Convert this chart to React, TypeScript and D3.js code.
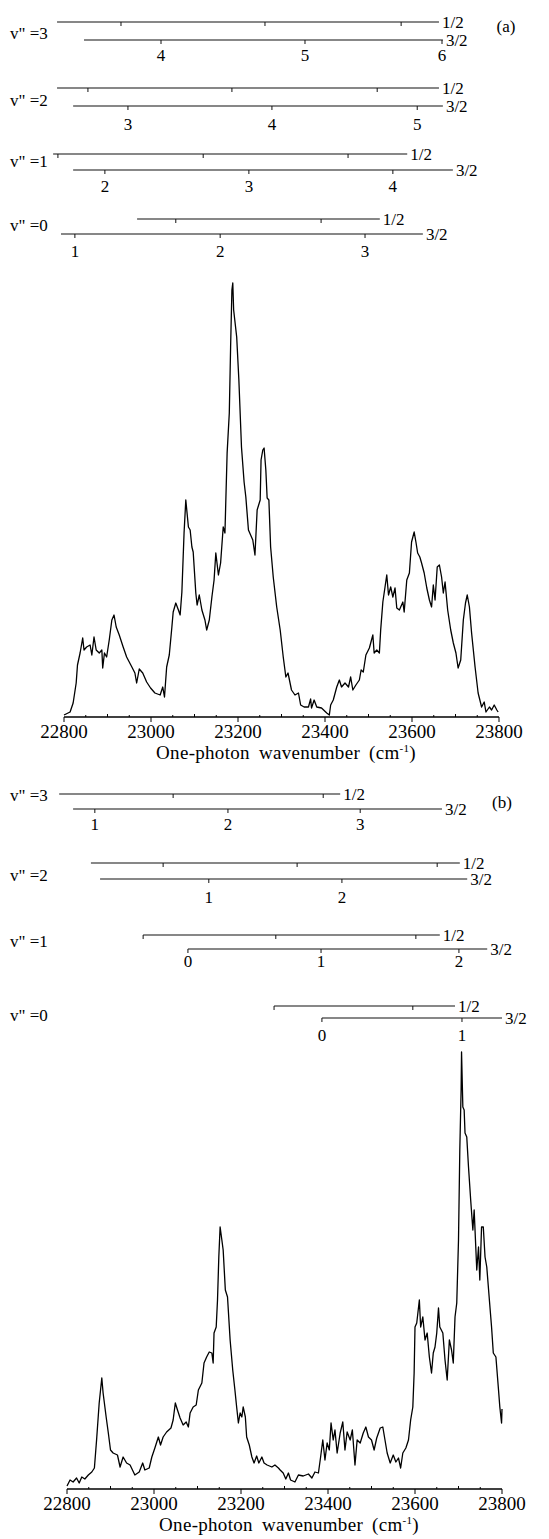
import React, { useEffect, useRef } from "react";
import * as d3 from "d3";

// spectrum (a): [one-photon wavenumber cm-1, signal a.u.]
const spectrumA: [number, number][] = [
  [22800, 2], [22814, 5], [22821, 14], [22828, 34], [22831, 52], [22837, 64], [22843, 79], [22846, 67],
  [22852, 70], [22860, 72], [22864, 62], [22869, 80], [22874, 67], [22881, 64], [22887, 67], [22889, 49],
  [22893, 64], [22898, 60], [22904, 77], [22910, 97], [22915, 102], [22920, 90], [22927, 82], [22936, 70],
  [22944, 60], [22956, 50], [22963, 44], [22967, 34], [22973, 48], [22981, 44], [22990, 35], [22999, 29],
  [23009, 24], [23021, 22], [23027, 30], [23031, 20], [23036, 50], [23042, 62], [23048, 90], [23051, 105],
  [23057, 114], [23063, 107], [23067, 102], [23071, 125], [23076, 184], [23080, 217], [23086, 190], [23090, 187],
  [23094, 170], [23097, 165], [23103, 124], [23106, 112], [23111, 122], [23117, 107], [23124, 97], [23128, 87],
  [23134, 97], [23140, 120], [23145, 137], [23149, 164], [23155, 142], [23160, 154], [23166, 190], [23170, 184],
  [23175, 264], [23180, 304], [23183, 370], [23186, 427], [23188, 434], [23190, 407], [23197, 380], [23202, 337],
  [23208, 270], [23214, 235], [23218, 220], [23224, 187], [23229, 182], [23234, 177], [23239, 162], [23244, 207],
  [23251, 217], [23253, 257], [23257, 267], [23260, 269], [23264, 247], [23267, 219], [23271, 217], [23275, 170],
  [23281, 140], [23289, 110], [23297, 87], [23304, 60], [23310, 40], [23315, 44], [23323, 27], [23331, 22],
  [23339, 24], [23344, 12], [23352, 10], [23362, 10], [23367, 18], [23369, 9], [23375, 17], [23381, 10],
  [23392, 9], [23404, 4], [23410, 2], [23413, 12], [23419, 17], [23427, 30], [23433, 37], [23438, 30],
  [23446, 34], [23454, 30], [23459, 40], [23464, 27], [23471, 32], [23479, 37], [23483, 47], [23488, 45],
  [23494, 62], [23502, 69], [23510, 82], [23513, 64], [23519, 67], [23525, 64], [23528, 87], [23533, 115],
  [23538, 130], [23542, 142], [23546, 122], [23551, 130], [23556, 120], [23561, 129], [23565, 109], [23571, 107],
  [23579, 115], [23582, 105], [23588, 137], [23594, 144], [23599, 175], [23605, 185], [23609, 175], [23613, 164],
  [23618, 160], [23622, 154], [23628, 144], [23634, 129], [23640, 117], [23645, 110], [23649, 132], [23653, 117],
  [23658, 150], [23663, 152], [23668, 140], [23672, 124], [23676, 135], [23682, 107], [23689, 87], [23695, 74],
  [23701, 64], [23706, 49], [23712, 57], [23718, 97], [23723, 114], [23727, 122], [23732, 110], [23737, 84],
  [23745, 50], [23752, 24], [23760, 10], [23766, 15], [23770, 5], [23778, 10], [23783, 7], [23789, 12],
  [23795, 7], [23798, 5],
];

// spectrum (b)
const spectrumB: [number, number][] = [
  [22800, 3], [22807, 9], [22814, 7], [22822, 11], [22828, 6], [22834, 12], [22841, 10], [22849, 14],
  [22857, 17], [22863, 21], [22868, 49], [22874, 86], [22880, 111], [22883, 96], [22890, 72], [22895, 56],
  [22900, 39], [22906, 36], [22916, 34], [22922, 22], [22929, 32], [22937, 26], [22945, 24], [22956, 14],
  [22966, 17], [22974, 26], [22979, 19], [22989, 21], [22995, 32], [23002, 41], [23010, 52], [23015, 44],
  [23021, 52], [23029, 57], [23039, 61], [23044, 69], [23049, 86], [23054, 79], [23060, 71], [23067, 64],
  [23074, 67], [23079, 62], [23083, 76], [23090, 82], [23097, 84], [23102, 99], [23110, 106], [23115, 126],
  [23121, 132], [23127, 137], [23133, 136], [23136, 126], [23138, 156], [23143, 162], [23146, 189], [23149, 232],
  [23152, 262], [23156, 249], [23159, 239], [23164, 199], [23169, 192], [23175, 149], [23181, 119], [23186, 99],
  [23190, 82], [23194, 66], [23198, 76], [23202, 72], [23205, 82], [23210, 72], [23213, 52], [23219, 44],
  [23225, 32], [23230, 26], [23236, 33], [23241, 26], [23248, 32], [23253, 26], [23260, 24], [23271, 22],
  [23278, 24], [23286, 21], [23290, 19], [23297, 16], [23303, 10], [23309, 16], [23314, 9], [23324, 7],
  [23332, 14], [23343, 13], [23355, 15], [23363, 11], [23370, 17], [23378, 16], [23383, 32], [23388, 49],
  [23393, 29], [23398, 46], [23403, 39], [23407, 66], [23412, 49], [23416, 59], [23421, 36], [23428, 56],
  [23434, 67], [23439, 39], [23444, 57], [23451, 49], [23456, 59], [23462, 24], [23467, 49], [23474, 46],
  [23481, 56], [23487, 62], [23493, 52], [23500, 49], [23506, 39], [23512, 51], [23520, 61], [23526, 62],
  [23531, 49], [23536, 36], [23543, 26], [23550, 34], [23556, 27], [23562, 31], [23567, 21], [23572, 36],
  [23579, 41], [23585, 49], [23590, 69], [23595, 82], [23598, 116], [23600, 162], [23604, 166], [23610, 189],
  [23613, 162], [23618, 172], [23623, 149], [23628, 156], [23633, 132], [23638, 116], [23642, 136], [23646, 142],
  [23650, 156], [23654, 181], [23657, 162], [23664, 156], [23669, 129], [23674, 109], [23679, 149], [23684, 139],
  [23688, 126], [23692, 172], [23696, 186], [23700, 249], [23703, 339], [23706, 399], [23707, 437], [23710, 382],
  [23713, 379], [23715, 356], [23719, 352], [23723, 322], [23728, 289], [23733, 259], [23736, 279], [23739, 249],
  [23742, 219], [23746, 242], [23749, 209], [23753, 262], [23757, 262], [23761, 232], [23765, 222], [23771, 189],
  [23776, 162], [23780, 136], [23786, 132], [23792, 99], [23795, 82], [23799, 66], [23800, 80],
];

// progressions: v" level, 1/2 and 3/2 components (start, end, tick positions in cm-1), v' labels
const ladderA = [
  { v: 3, half: [22784, 23662], halfTicks: [22931, 23262, 23575], full: [22846, 23671], fullTicks: [23023, 23354, 23669], labels: ["4", "5", "6"] },
  { v: 2, half: [22784, 23662], halfTicks: [22855, 23186, 23520], full: [22821, 23671], fullTicks: [22947, 23278, 23612], labels: ["3", "4", "5"] },
  { v: 1, half: [22775, 23589], halfTicks: [22786, 23120, 23453], full: [22821, 23694], fullTicks: [22894, 23225, 23556], labels: ["2", "3", "4"] },
  { v: 0, half: [22968, 23526], halfTicks: [23057, 23391], full: [22793, 23625], fullTicks: [22825, 23159, 23492], labels: ["1", "2", "3"] },
];

const ladderB = [
  { v: 3, half: [22782, 23428], halfTicks: [23044, 23389], full: [22814, 23662], fullTicks: [22864, 23170, 23474], labels: ["1", "2", "3"] },
  { v: 2, half: [22855, 23703], halfTicks: [23021, 23329, 23651], full: [22876, 23720], fullTicks: [23126, 23432], labels: ["1", "2"] },
  { v: 1, half: [22975, 23657], halfTicks: [22975, 23280, 23602], full: [23078, 23766], fullTicks: [23078, 23384, 23701], labels: ["0", "1", "2"] },
  { v: 0, half: [23276, 23692], halfTicks: [23276, 23595], full: [23386, 23800], fullTicks: [23386, 23708], labels: ["0", "1"] },
];

const xDomain = [22800, 23800];
const tickLabels = [22800, 23000, 23200, 23400, 23600, 23800];

export default function App() {
  const ref = useRef<SVGSVGElement>(null);

  useEffect(() => {
    const svg = d3.select(ref.current);
    svg.selectAll("*").remove();

    const drawPanel = (opt: any) => {
      const g = svg.append("g");
      const x = d3.scaleLinear().domain(xDomain).range(opt.xRange);
      const y = d3.scaleLinear().domain([0, opt.peak]).range([opt.base, opt.top]);

      // ladders
      opt.ladder.forEach((row: any, i: number) => {
        const r = opt.rows[i];
        g.append("text")
          .attr("x", 10)
          .attr("y", r.label)
          .attr("dy", "0.35em")
          .attr("font-size", 17)
          .text(`v" =${row.v}`);

        [
          { span: row.half, ticks: row.halfTicks, yy: r.half, name: "1/2" },
          { span: row.full, ticks: row.fullTicks, yy: r.full, name: "3/2" },
        ].forEach((c) => {
          g.append("line")
            .attr("x1", x(c.span[0]))
            .attr("x2", x(c.span[1]))
            .attr("y1", c.yy)
            .attr("y2", c.yy)
            .attr("stroke", "#111")
            .attr("stroke-width", 1.1);
          g.selectAll(null)
            .data(c.ticks)
            .join("line")
            .attr("x1", (d: number) => x(d))
            .attr("x2", (d: number) => x(d))
            .attr("y1", c.yy)
            .attr("y2", c.yy + 4)
            .attr("stroke", "#111")
            .attr("stroke-width", 1);
          g.append("text")
            .attr("x", x(c.span[1]) + 3)
            .attr("y", c.yy)
            .attr("dy", "0.35em")
            .attr("font-size", 17)
            .text(c.name);
        });

        g.selectAll(null)
          .data(row.fullTicks)
          .join("text")
          .attr("x", (d: number) => x(d))
          .attr("y", r.digits)
          .attr("dy", "0.35em")
          .attr("text-anchor", "middle")
          .attr("font-size", 17)
          .text((d: number, j: number) => row.labels[j]);
      });

      g.append("text")
        .attr("x", opt.tag[0])
        .attr("y", opt.tag[1])
        .attr("dy", "0.35em")
        .attr("text-anchor", "middle")
        .attr("font-size", 17)
        .text(opt.tagText);

      // spectrum
      const line = d3
        .line<[number, number]>()
        .x((d) => x(d[0]))
        .y((d) => y(d[1]));
      g.append("path")
        .datum(opt.data)
        .attr("d", line)
        .attr("fill", "none")
        .attr("stroke", "#000")
        .attr("stroke-width", 1.3)
        .attr("stroke-linejoin", "round");

      // x axis
      g.append("line")
        .attr("x1", opt.xRange[0])
        .attr("x2", opt.xRange[1])
        .attr("y1", opt.base)
        .attr("y2", opt.base)
        .attr("stroke", "#000")
        .attr("stroke-width", 1.3);
      g.selectAll(null)
        .data(d3.range(22800, 23801, 50))
        .join("line")
        .attr("x1", (d: number) => x(d))
        .attr("x2", (d: number) => x(d))
        .attr("y1", opt.base)
        .attr("y2", (d: number) => (d % 200 === 0 ? opt.base + 5 : opt.base - (d % 100 === 0 ? 3 : 2)))
        .attr("stroke", "#000")
        .attr("stroke-width", 1);
      g.selectAll(null)
        .data(tickLabels)
        .join("text")
        .attr("x", (d: number) => x(d))
        .attr("y", opt.base + 21)
        .attr("text-anchor", "middle")
        .attr("font-size", 19)
        .text((d: number) => d);

      const title = g
        .append("text")
        .attr("x", opt.titleX)
        .attr("y", opt.base + 42)
        .attr("text-anchor", "middle")
        .attr("font-size", 19)
        .attr("word-spacing", 4)
        .attr("letter-spacing", 0.3)
        .text("One-photon wavenumber (cm");
      title.append("tspan").attr("dy", -7).attr("font-size", 11).text("-1");
      title.append("tspan").attr("dy", 7).text(")");
    };

    drawPanel({
      xRange: [64, 499],
      base: 717,
      top: 283,
      peak: 434,
      data: spectrumA,
      ladder: ladderA,
      rows: [
        { half: 22, full: 40, digits: 55, label: 33 },
        { half: 88, full: 106, digits: 124, label: 100 },
        { half: 154, full: 170, digits: 186, label: 161 },
        { half: 219, full: 234, digits: 251, label: 225 },
      ],
      tag: [506, 26],
      tagText: "(a)",
      titleX: 286,
    });

    drawPanel({
      xRange: [67, 502],
      base: 1489,
      top: 1052,
      peak: 437,
      data: spectrumB,
      ladder: ladderB,
      rows: [
        { half: 794, full: 809, digits: 824, label: 795 },
        { half: 863, full: 879, digits: 897, label: 875 },
        { half: 935, full: 949, digits: 961, label: 941 },
        { half: 1006, full: 1018, digits: 1035, label: 1015 },
      ],
      tag: [502, 802],
      tagText: "(b)",
      titleX: 289,
    });
  }, []);

  return (
    <svg
      ref={ref}
      width={549}
      height={1539}
      fontFamily="Liberation Serif, Times New Roman, DejaVu Serif, serif"
      style={{ position: "absolute", left: 0, top: 0, background: "#fff" }}
    />
  );
}
